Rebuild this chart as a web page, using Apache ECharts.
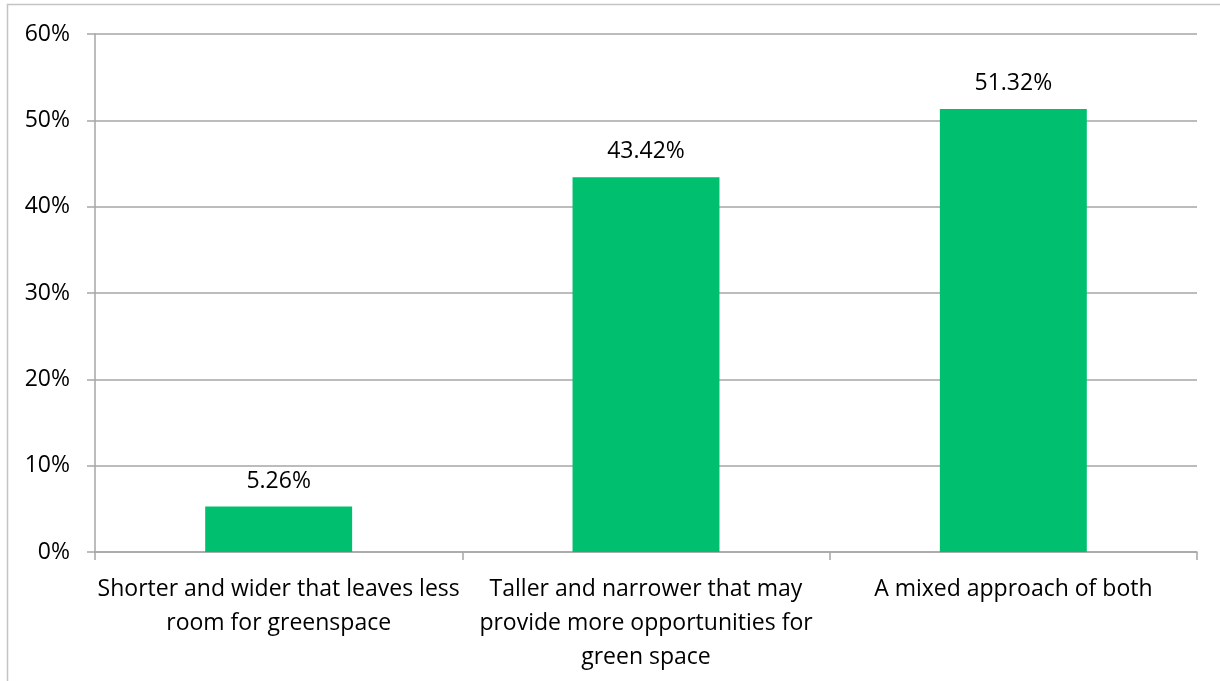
<!DOCTYPE html>
<html>
<head>
<meta charset="utf-8">
<script src="https://cdn.jsdelivr.net/npm/echarts@6/dist/echarts.min.js"></script>
<style>
  html, body { margin: 0; padding: 0; background: #fff; }
  #chart { width: 1220px; height: 681px; }
</style>
</head>
<body>
<div id="chart"></div>
<script>
// Survey answers: preferred building form
const categories = [
  'Shorter and wider that leaves less\nroom for greenspace',
  'Taller and narrower that may\nprovide more opportunities for\ngreen space',
  'A mixed approach of both'
];
const shares = [5.26, 43.42, 51.32];
const yTicks = [0, 10, 20, 30, 40, 50, 60];

const FONT = 'Open Sans';
const FS = 23;
const chart = echarts.init(document.getElementById('chart'), null, { renderer: 'canvas' });

chart.setOption({
  animation: false,
  backgroundColor: '#fff',
  textStyle: { fontFamily: FONT },
  graphic: [{
    type: 'rect',
    shape: { x: 7.5, y: 4.5, width: 1240, height: 700 },
    style: { fill: 'none', stroke: '#c4c4c4', lineWidth: 1.5 },
    silent: true
  }],
  grid: { left: 95, right: 23, top: 34, bottom: 129, containLabel: false },
  xAxis: {
    type: 'category',
    data: categories,
    axisLine: { lineStyle: { color: '#a6a6a6', width: 1.5 } },
    axisTick: { show: true, alignWithLabel: false, length: 8, lineStyle: { color: '#a6a6a6', width: 1.5 } },
    axisLabel: {
      color: '#000', fontSize: FS, fontFamily: FONT, lineHeight: 34, margin: 20, interval: 0
    }
  },
  yAxis: {
    type: 'value',
    min: yTicks[0],
    max: yTicks[yTicks.length - 1],
    interval: 10,
    axisLine: { show: true, lineStyle: { color: '#a6a6a6', width: 1.5 } },
    axisTick: { show: true, length: 8, lineStyle: { color: '#a6a6a6', width: 1.5 } },
    splitLine: { lineStyle: { color: '#a6a6a6', width: 1.5 } },
    axisLabel: {
      color: '#000', fontSize: FS, fontFamily: FONT, margin: 25,
      formatter: v => v + '%'
    }
  },
  series: [{
    type: 'bar',
    data: shares,
    barWidth: '40%',
    itemStyle: { color: '#00bf6f' },
    label: {
      show: true, position: 'top', distance: 14,
      color: '#000', fontSize: FS, fontFamily: FONT,
      formatter: p => p.value.toFixed(2) + '%'
    }
  }]
});
</script>
</body>
</html>
